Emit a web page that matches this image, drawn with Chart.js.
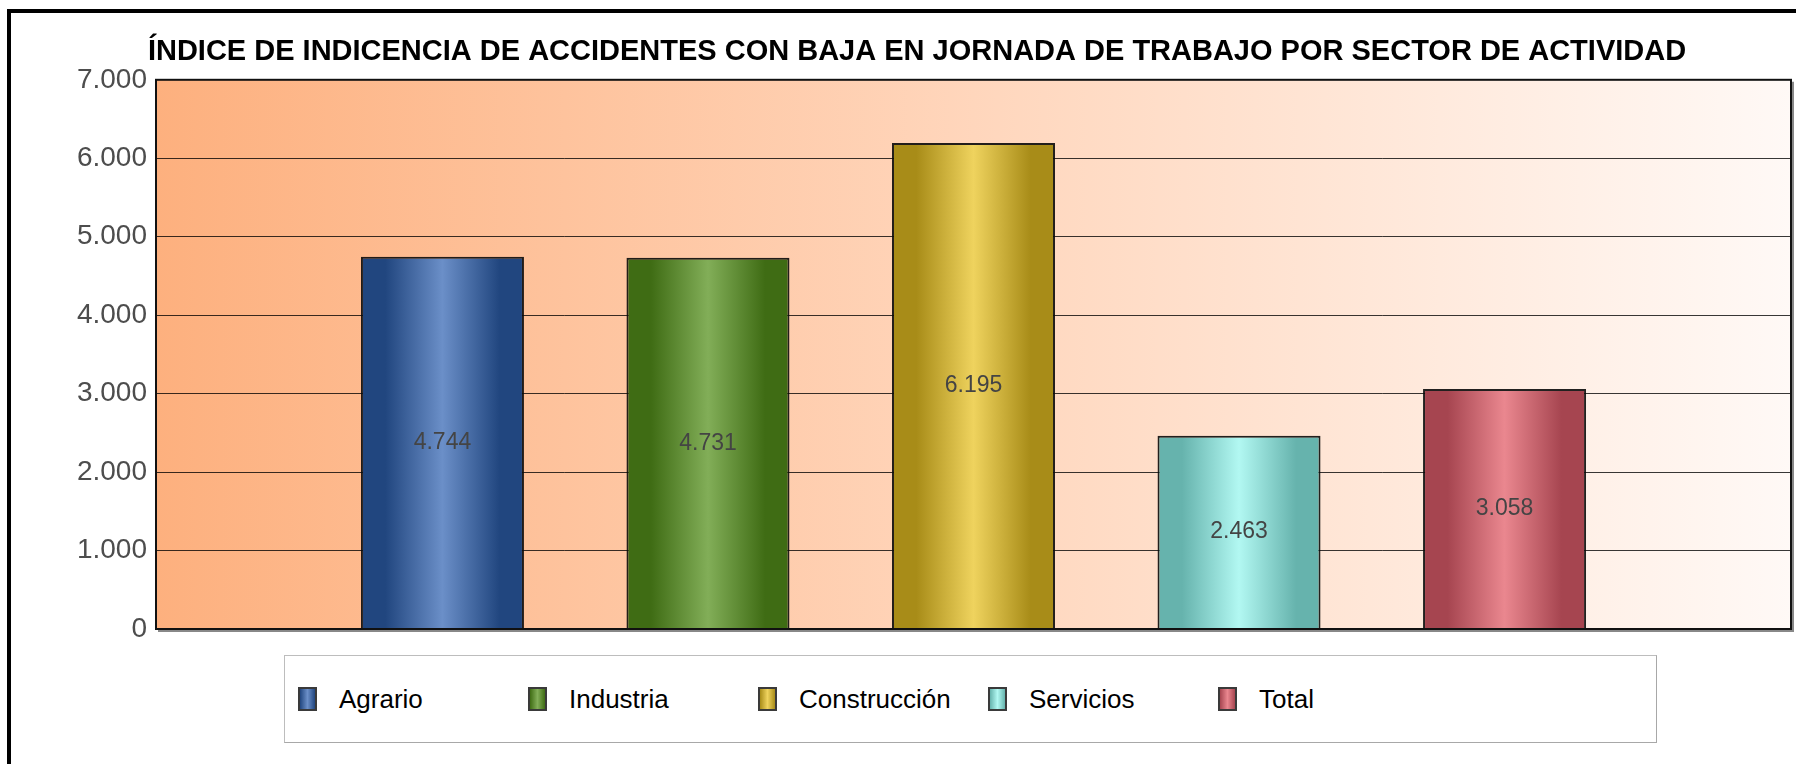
<!DOCTYPE html>
<html>
<head>
<meta charset="utf-8">
<script src="https://cdn.jsdelivr.net/npm/chart.js@4/dist/chart.umd.min.js"></script>
<style>
  html, body { margin: 0; padding: 0; background: #fff; }
  #wrap { position: relative; width: 1796px; height: 764px; overflow: hidden; }
  .frame-top { position: absolute; left: 7px; top: 9px; width: 1800px; height: 4px; background: #000; }
  .frame-left { position: absolute; left: 7px; top: 9px; width: 4px; height: 800px; background: #000; }
  #box { position: absolute; left: 0; top: 0; width: 1796px; height: 764px; }
  #legend {
    position: absolute; left: 284px; top: 655px; width: 1373px; height: 88px;
    border: 1px solid #bdbdbd; border-right-color: #a8a8a8; border-bottom-color: #a8a8a8;
    background: #fff; display: flex; align-items: center; padding-left: 13px; box-sizing: border-box;
    font-family: "Liberation Sans", Arial, sans-serif; font-size: 26px; color: #000;
  }
  #legend .item { width: 230px; display: flex; align-items: center; }
  #legend .swatch { width: 15px; height: 20px; border: 2px solid #3a3a3a; margin-right: 22px; flex: none; }
</style>
</head>
<body>
<div id="wrap">
  <div class="frame-top"></div>
  <div class="frame-left"></div>
  <div id="box"><canvas id="chart"></canvas></div>
  <div id="legend"></div>
</div>
<script>
const categories = ["Agrario", "Industria", "Construcción", "Servicios", "Total"];
const values = [4744, 4731, 6195, 2463, 3058];
const yMax = 7000;
const yStep = 1000;
const darkColors = ["#21467f", "#3f6c14", "#a88c18", "#66b3ad", "#a64550"];
const lightColors = ["#6b8fc8", "#82ae58", "#efd35e", "#b2f8f2", "#ea878f"];

const catPct = 0.812;
const barPct = 0.614;

// 4744 -> "4.744"
const fmt = (v) => String(Math.round(v)).replace(/\B(?=(\d{3})+(?!\d))/g, ".");

function cylinder(ctx2d, x0, x1, i) {
    const g = ctx2d.createLinearGradient(x0, 0, x1, 0);
    g.addColorStop(0, darkColors[i]);
    g.addColorStop(0.15, darkColors[i]);
    g.addColorStop(0.5, lightColors[i]);
    g.addColorStop(0.85, darkColors[i]);
    g.addColorStop(1, darkColors[i]);
    return g;
}

function barGradient(context) {
    const chart = context.chart;
    const area = chart.chartArea;
    const i = context.datasetIndex;
    if (!area || !chart.scales.x) return lightColors[i];
    const n = categories.length;
    const slot = (area.right - area.left) * catPct / n;
    const cx = chart.scales.x.getPixelForValue(0) + (i - (n - 1) / 2) * slot;
    const half = slot * barPct / 2;
    return cylinder(chart.ctx, cx - half, cx + half, i);
}

const plotBackground = {
    id: "plotBackground",
    beforeDraw(chart) {
        const { ctx, chartArea: a } = chart;
        const g = ctx.createLinearGradient(a.left, 0, a.right, 0);
        g.addColorStop(0, "#fdb07e");
        g.addColorStop(0.5, "#ffd6bc");
        g.addColorStop(1, "#fff9f6");
        ctx.save();
        ctx.fillStyle = g;
        ctx.fillRect(a.left, a.top, a.right - a.left, a.bottom - a.top);
        ctx.restore();
    },
    afterDraw(chart) {
        const { ctx, chartArea: a } = chart;
        ctx.save();
        ctx.strokeStyle = "#888";
        ctx.lineWidth = 2;
        ctx.beginPath();
        ctx.moveTo(a.right + 2, a.top + 2);
        ctx.lineTo(a.right + 2, a.bottom + 2);
        ctx.lineTo(a.left + 2, a.bottom + 2);
        ctx.stroke();
        ctx.strokeStyle = "#111";
        ctx.strokeRect(a.left, a.top, a.right - a.left, a.bottom - a.top);
        ctx.restore();
    },
};

const valueLabels = {
    id: "valueLabels",
    afterDatasetsDraw(chart) {
        const ctx = chart.ctx;
        ctx.save();
        ctx.font = '23px "Liberation Sans", Arial, sans-serif';
        ctx.fillStyle = "#444";
        ctx.textAlign = "center";
        ctx.textBaseline = "middle";
        chart.data.datasets.forEach((ds, i) => {
            const el = chart.getDatasetMeta(i).data[0];
            ctx.fillText(fmt(ds.data[0]), el.x, (el.y + el.base) / 2);
        });
        ctx.restore();
    },
};

new Chart(document.getElementById("chart").getContext("2d"), {
    type: "bar",
    data: {
        labels: [""],
        datasets: categories.map((name, i) => ({
            label: name,
            data: [values[i]],
            backgroundColor: barGradient,
            borderColor: "rgba(10,10,10,0.9)",
            borderWidth: 2,
            borderSkipped: "bottom",
            categoryPercentage: catPct,
            barPercentage: barPct,
        })),
    },
    options: {
        responsive: true,
        maintainAspectRatio: false,
        animation: false,
        layout: {
            padding: { left: 43, right: 5, top: 0, bottom: 135 },
        },
        plugins: {
            legend: { display: false },
            tooltip: { enabled: false },
            title: {
                display: true,
                text: "ÍNDICE DE INDICENCIA DE ACCIDENTES CON BAJA EN JORNADA DE TRABAJO POR SECTOR DE ACTIVIDAD",
                color: "#000",
                font: { family: '"Liberation Sans", Arial, sans-serif', size: 29, weight: "bold", lineHeight: 1.2 },
                padding: { top: 35, bottom: 10 },
            },
        },
        scales: {
            x: { display: false },
            y: {
                min: 0,
                max: yMax,
                afterFit: (scale) => { scale.width = 113; },
                border: { display: false },
                grid: { color: "rgba(0,0,0,0.78)", lineWidth: 1, drawTicks: false },
                ticks: {
                    stepSize: yStep,
                    padding: 9,
                    color: "#4d4d4d",
                    font: { family: '"Liberation Sans", Arial, sans-serif', size: 28 },
                    callback: (v) => fmt(v),
                },
            },
        },
    },
    plugins: [plotBackground, valueLabels],
});

// legend, built from the same categories and colours
const legend = document.getElementById("legend");
categories.forEach((name, i) => {
    const item = document.createElement("div");
    item.className = "item";
    const sw = document.createElement("span");
    sw.className = "swatch";
    sw.style.background = `linear-gradient(90deg, ${darkColors[i]} 0%, ${lightColors[i]} 50%, ${darkColors[i]} 100%)`;
    const txt = document.createElement("span");
    txt.textContent = name;
    item.appendChild(sw);
    item.appendChild(txt);
    legend.appendChild(item);
});
</script>
</body>
</html>
